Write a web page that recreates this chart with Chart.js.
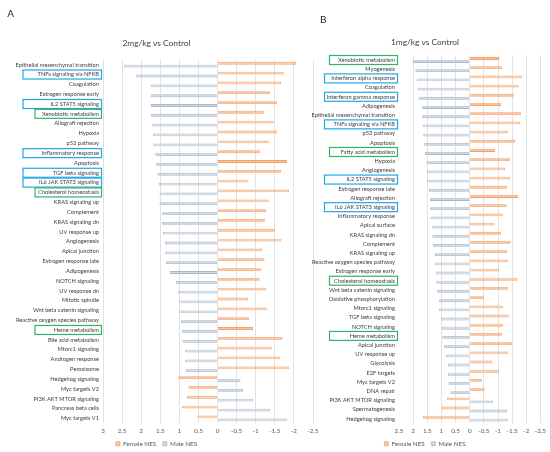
<!DOCTYPE html>
<html><head><meta charset="utf-8">
<script src="https://cdn.jsdelivr.net/npm/chart.js@4.4.1/dist/chart.umd.min.js"></script>
<style>
html,body{margin:0;padding:0;background:#fff;width:550px;height:452px;overflow:hidden}
#wa{position:absolute;left:0;top:0;width:330px;height:452px}
#wb{position:absolute;left:308px;top:0;width:242px;height:452px}
.panel{position:absolute;font-family:Lato,"Liberation Sans",sans-serif;font-size:10px;line-height:10px;color:#262626}
</style></head><body>
<div id="wa"><canvas id="ca"></canvas></div>
<div id="wb"><canvas id="cb"></canvas></div>
<div class="panel" style="left:7.2px;top:7.6px">A</div>
<div class="panel" style="left:320px;top:14px">B</div>
<script>
// ---------- Panel A data (2mg/kg vs Control) ----------
const labelsA = [
 'Epithelial mesenchymal transition','TNFa signaling via NFKB','Coagulation','Estrogen response early',
 'IL2 STAT5 signaling','Xenobiotic metabolism','Allograft rejection','Hypoxia','p53 pathway',
 'Inflammatory response','Apoptosis','TGF beta signaling','IL6 JAK STAT3 signaling','Cholesterol homeostasis',
 'KRAS signaling up','Complement','KRAS signaling dn','UV response up','Angiogenesis','Apical junction',
 'Estrogen response late','Adipogenesis','NOTCH signaling','UV response dn','Mitotic spindle',
 'Wnt beta catenin signaling','Reactive oxygen species pathway','Heme metabolism','Bile acid metabolism',
 'Mtorc1 signaling','Androgen response','Peroxisome','Hedgehog signaling','Myc targets V2',
 'PI3K AKT MTOR signaling','Pancreas beta cells','Myc targets V1'];
const femaleA = [-2.06,-1.75,-1.66,-1.37,-1.56,-1.23,-1.47,-1.57,-1.34,-1.11,-1.82,-1.67,-0.81,-1.87,
 -1.34,-1.28,-1.25,-1.51,-1.67,-1.17,-1.23,-1.15,-1.10,-1.28,-0.80,-1.29,-0.82,-0.93,-1.70,-1.43,-1.64,-1.88,
 1.03,0.76,0.81,0.93,0.53];
const maleA = [2.46,2.13,1.75,1.75,1.75,1.74,1.71,1.69,1.68,1.63,1.61,1.57,1.54,1.52,1.52,1.45,1.45,1.43,
 1.38,1.38,1.36,1.25,1.09,1.03,1.00,1.00,0.96,0.94,0.92,0.85,0.85,0.83,-0.60,-0.67,-0.94,-1.38,-1.83];
const blueA = ['TNFa signaling via NFKB','IL2 STAT5 signaling','Inflammatory response','TGF beta signaling','IL6 JAK STAT3 signaling'];
const greenA = ['Xenobiotic metabolism','Cholesterol homeostasis','Heme metabolism'];

// ---------- Panel B data (1mg/kg vs Control) ----------
const labelsB = [
 'Xenobiotic metabolism','Myogenesis','Interferon alpha response','Coagulation','Interferon gamma response',
 'Adipogenesis','Epithelial mesenchymal transition','TNFa signaling via NFKB','p53 pathway','Apoptosis',
 'Fatty acid metabolism','Hypoxia','Angiogenesis','IL2 STAT5 signaling','Estrogen response late',
 'Allograft rejection','IL6 JAK STAT3 signaling','Inflammatory response','Apical surface','KRAS signaling dn',
 'Complement','KRAS signaling up','Reactive oxygen species pathway','Estrogen response early',
 'Cholesterol homeostasis','Wnt beta catenin signaling','Oxidative phosphorylation','Mtorc1 signaling',
 'TGF beta signaling','NOTCH signaling','Heme metabolism','Apical junction','UV response up','Glycolysis',
 'E2F targets','Myc targets V2','DNA repair','PI3K AKT MTOR signaling','Spermatogenesis','Hedgehog signaling'];
const femaleB = [-1.05,-1.15,-1.86,-1.73,-1.56,-1.11,-1.81,-1.79,-1.35,-1.60,-0.90,-1.42,-1.25,-1.43,-1.32,
 -1.72,-1.31,-1.17,-0.88,-1.11,-1.45,-1.32,-1.35,-1.04,-1.67,-1.36,-0.50,-1.17,-1.38,-1.17,-1.15,-1.50,-1.36,
 -0.80,-1.04,-0.44,-0.53,0.80,0.98,1.66];
const maleB = [2.02,1.92,1.87,1.85,1.81,1.68,1.68,1.66,1.64,1.61,1.58,1.53,1.52,1.51,1.44,1.40,1.40,1.39,1.33,
 1.32,1.30,1.24,1.23,1.19,1.18,1.15,1.08,1.08,1.02,0.98,0.97,0.91,0.84,0.77,0.77,0.75,0.68,-0.82,-1.32,-1.36];
const blueB = ['Interferon alpha response','Interferon gamma response','TNFa signaling via NFKB','IL2 STAT5 signaling','IL6 JAK STAT3 signaling'];
const greenB = ['Xenobiotic metabolism','Fatty acid metabolism','Cholesterol homeostasis','Heme metabolism'];

const seriesNames = ['Female NES','Male NES'];

Chart.defaults.font.family = 'Lato, "Liberation Sans", sans-serif';
Chart.defaults.color = '#404040';

const boxPlugin = {
  id: 'labelBoxes',
  afterDraw(chart, args, opts) {
    const ys = chart.scales.y, ctx = chart.ctx;
    ctx.save();
    ctx.lineWidth = opts.lineWidth;
    opts.groups.forEach(g => {
      ctx.strokeStyle = g.color;
      g.names.forEach(n => {
        const i = chart.data.labels.indexOf(n);
        if (i < 0) return;
        const cy = ys.getPixelForValue(i);
        const r = ys.right - opts.rightGap;
        ctx.strokeRect(g.left, cy - opts.half, r - g.left, opts.half * 2);
      });
    });
    ctx.restore();
  }
};

function makeChart(id, c) {
  return new Chart(document.getElementById(id), {
    type: 'bar',
    data: {
      labels: c.labels,
      datasets: [
        { label: seriesNames[0], data: c.female, backgroundColor: '#F9C6A2', borderColor: '#F4A26B', borderWidth: 0.8 },
        { label: seriesNames[1], data: c.male, backgroundColor: '#D0D8E4', borderColor: '#A9B6C9', borderWidth: 0.8 }
      ]
    },
    plugins: [boxPlugin],
    options: {
      indexAxis: 'y',
      responsive: true,
      maintainAspectRatio: false,
      animation: false,
      events: [],
      datasets: { bar: { categoryPercentage: c.cp, barPercentage: 0.95 } },
      layout: { padding: { left: 0, right: c.padRight, top: 0, bottom: c.padBottom } },
      scales: {
        x: {
          type: 'linear', reverse: true, min: c.min, max: c.max,
          ticks: { stepSize: 0.5, color: '#595959', font: { size: 6.3 }, padding: 4,
                   maxRotation: 0, minRotation: 0, autoSkip: false,
                   callback: v => String(Math.round(v * 10) / 10) },
          grid: { drawTicks: false, lineWidth: 0.8,
                  color: ctx => (c.hideGrid !== undefined && ctx.tick && Math.abs(ctx.tick.value - c.hideGrid) < 1e-6) ? 'rgba(0,0,0,0)' : '#DADADA' },
          border: { display: false },
          afterFit: s => { s.height = c.xHeight; }
        },
        y: {
          type: 'category',
          ticks: { color: '#404040', font: { size: 5.7 }, padding: 4, autoSkip: false },
          grid: { display: false, drawTicks: false },
          border: { display: false },
          afterFit: s => { s.width = c.yWidth; }
        }
      },
      plugins: {
        tooltip: { enabled: false },
        title: { display: true, text: c.title, color: '#404040',
                 font: { size: 8.4, weight: 'normal' }, padding: { top: c.tTop, bottom: c.tBottom } },
        legend: { position: 'bottom',
                  labels: { boxWidth: 4, boxHeight: 4, padding: 6.6, color: '#595959', font: { size: 6.3 } } },
        labelBoxes: { lineWidth: 1.2, half: 4.5, rightGap: 1.5, groups: c.groups }
      }
    }
  });
}

makeChart('ca', {
  labels: labelsA, female: femaleA, male: maleA, min: -2.5, max: 3, cp: 0.6,
  padRight: 17, padBottom: -4.9, yWidth: 103, xHeight: 10.7,
  title: '2mg/kg vs Control', tTop: 37.96, tBottom: 11.76,
  groups: [ { names: blueA, color: '#22A8E6', left: 23 }, { names: greenA, color: '#2FB56A', left: 35 } ]
});

makeChart('cb', {
  labels: labelsB, female: femaleB, male: maleB, min: -2.5, max: 2.5, cp: 0.65, hideGrid: 2.5,
  padRight: 8, padBottom: -4.9, yWidth: 91, xHeight: 10.7,
  title: '1mg/kg vs Control', tTop: 36.96, tBottom: 8.36,
  groups: [ { names: blueB, color: '#22A8E6', left: 16.5 }, { names: greenB, color: '#2FB56A', left: 21.5 } ]
});
</script>
</body></html>
